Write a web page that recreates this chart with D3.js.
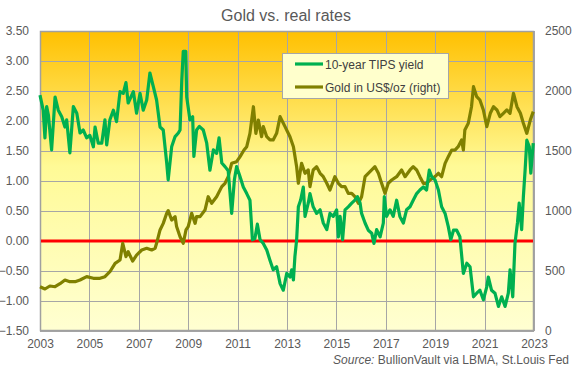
<!DOCTYPE html>
<html>
<head>
<meta charset="utf-8">
<script src="https://cdn.jsdelivr.net/npm/d3@7"></script>
<style>
  html, body { margin: 0; padding: 0; background: #ffffff; }
  svg { display: block; font-family: "Liberation Sans", Arial, sans-serif; }
</style>
</head>
<body>
<svg id="chart" width="574" height="375"></svg>
<script>
// ---- Data ----
const title = "Gold vs. real rates";
const seriesNames = ["10-year TIPS yield", "Gold in US$/oz (right)"];
const xTicks = [2003, 2005, 2007, 2009, 2011, 2013, 2015, 2017, 2019, 2021, 2023];
const leftTicks = [-1.5, -1.0, -0.5, 0, 0.5, 1.0, 1.5, 2.0, 2.5, 3.0, 3.5];
const rightTicks = [0, 500, 1000, 1500, 2000, 2500];

const tipsDates = [2003.00,2003.13,2003.20,2003.27,2003.34,2003.47,2003.61,2003.74,2003.88,2004.01,2004.08,2004.21,2004.35,2004.49,2004.62,2004.75,2004.89,2005.02,2005.16,2005.23,2005.36,2005.50,2005.63,2005.70,2005.83,2005.97,2006.10,2006.24,2006.37,2006.48,2006.57,2006.78,2006.91,2007.05,2007.18,2007.32,2007.45,2007.59,2007.72,2007.86,2007.99,2008.13,2008.19,2008.33,2008.47,2008.60,2008.67,2008.74,2008.80,2008.90,2008.94,2009.07,2009.18,2009.23,2009.34,2009.45,2009.61,2009.75,2009.88,2010.02,2010.15,2010.25,2010.36,2010.49,2010.62,2010.76,2010.87,2010.96,2011.10,2011.23,2011.37,2011.50,2011.60,2011.70,2011.80,2011.91,2012.04,2012.18,2012.31,2012.44,2012.58,2012.72,2012.85,2012.99,2013.12,2013.19,2013.26,2013.32,2013.39,2013.46,2013.55,2013.66,2013.73,2013.86,2013.93,2014.06,2014.20,2014.34,2014.47,2014.61,2014.74,2014.87,2015.01,2015.08,2015.15,2015.25,2015.35,2015.48,2015.62,2015.75,2015.85,2015.96,2016.02,2016.16,2016.29,2016.43,2016.52,2016.63,2016.77,2016.90,2016.94,2017.03,2017.17,2017.30,2017.44,2017.57,2017.71,2017.84,2017.98,2018.11,2018.25,2018.38,2018.52,2018.65,2018.76,2018.86,2018.99,2019.13,2019.26,2019.40,2019.53,2019.63,2019.74,2019.87,2020.00,2020.14,2020.28,2020.41,2020.55,2020.68,2020.81,2020.95,2021.09,2021.15,2021.28,2021.42,2021.56,2021.69,2021.83,2021.96,2022.03,2022.14,2022.23,2022.33,2022.40,2022.50,2022.57,2022.64,2022.71,2022.81,2022.87,2022.97];
const tipsValues = [2.43,2.18,1.72,2.24,2.10,1.52,2.40,2.18,2.07,1.90,2.02,1.47,2.24,2.13,1.80,1.85,1.72,1.76,1.57,1.90,1.63,1.63,2.02,1.60,2.02,2.18,1.99,2.49,2.46,2.64,2.30,2.49,2.13,2.46,2.18,2.35,2.80,2.57,2.35,1.90,1.85,1.30,1.02,1.57,1.74,1.80,1.85,2.68,3.16,3.16,2.40,2.02,2.07,1.41,1.85,1.91,1.85,1.63,1.18,1.52,1.46,1.72,1.30,1.24,1.17,0.46,1.02,1.24,1.07,0.90,0.79,0.68,0.02,0.04,0.28,0.02,-0.04,-0.15,-0.32,-0.48,-0.43,-0.71,-0.82,-0.54,-0.60,-0.48,-0.65,-0.26,0.02,0.57,0.68,0.90,0.41,0.63,0.79,0.57,0.46,0.52,0.30,0.19,0.46,0.41,0.52,0.07,0.41,0.02,0.52,0.57,0.63,0.68,0.74,0.63,0.46,0.30,0.18,0.13,-0.04,0.19,0.07,0.30,0.74,0.41,0.52,0.41,0.68,0.41,0.30,0.52,0.57,0.68,0.79,0.85,0.90,0.85,1.18,1.07,1.02,0.85,0.57,0.46,0.24,0.02,0.18,0.18,0.07,-0.54,-0.37,-0.43,-0.93,-0.87,-0.82,-0.98,-0.76,-0.60,-0.82,-0.87,-1.09,-0.93,-1.09,-0.87,-0.48,-0.93,-0.04,0.30,0.63,0.19,0.74,1.18,1.68,1.57,1.13,1.63];

const goldDates = [2003.00,2003.20,2003.40,2003.61,2003.81,2004.01,2004.21,2004.42,2004.62,2004.89,2005.16,2005.43,2005.63,2005.83,2006.04,2006.24,2006.35,2006.48,2006.57,2006.75,2006.91,2007.12,2007.32,2007.52,2007.66,2007.72,2007.86,2007.99,2008.13,2008.19,2008.33,2008.47,2008.53,2008.67,2008.80,2008.91,2009.00,2009.14,2009.28,2009.34,2009.48,2009.68,2009.81,2009.95,2010.15,2010.36,2010.49,2010.62,2010.76,2010.96,2011.10,2011.26,2011.37,2011.50,2011.64,2011.74,2011.84,2011.97,2012.04,2012.18,2012.31,2012.44,2012.58,2012.72,2012.92,2013.12,2013.26,2013.39,2013.46,2013.59,2013.73,2013.86,2013.93,2014.06,2014.20,2014.34,2014.47,2014.61,2014.74,2014.94,2015.08,2015.21,2015.35,2015.48,2015.62,2015.75,2015.89,2016.02,2016.16,2016.29,2016.43,2016.56,2016.70,2016.83,2016.97,2017.10,2017.24,2017.44,2017.64,2017.78,2017.98,2018.11,2018.25,2018.38,2018.52,2018.65,2018.79,2018.99,2019.13,2019.26,2019.40,2019.53,2019.67,2019.80,2019.93,2020.07,2020.14,2020.20,2020.34,2020.47,2020.55,2020.68,2020.81,2020.95,2021.09,2021.23,2021.36,2021.50,2021.62,2021.76,2021.90,2022.03,2022.17,2022.31,2022.45,2022.57,2022.71,2022.85,2022.97];
const goldValues = [369,350,375,369,394,425,411,411,425,453,439,439,453,494,564,592,731,620,661,583,633,675,689,675,689,731,842,897,981,1003,925,953,870,786,731,842,870,981,897,953,953,1008,1119,1064,1119,1203,1231,1286,1397,1411,1453,1508,1536,1647,1869,1647,1758,1619,1703,1619,1592,1592,1647,1786,1703,1619,1536,1369,1231,1397,1314,1342,1203,1342,1369,1314,1286,1231,1175,1286,1231,1203,1203,1147,1147,1119,1064,1119,1286,1314,1342,1369,1314,1231,1147,1231,1258,1286,1342,1286,1342,1369,1342,1286,1231,1231,1258,1286,1314,1286,1397,1453,1508,1508,1536,1592,1508,1675,1731,1869,2036,1953,1925,1842,1703,1814,1869,1842,1786,1814,1842,1814,1981,1869,1814,1731,1647,1758,1828];

// ---- Layout ----
const svg = d3.select("#chart");
const W = 574, H = 375;
const plot = { left: 40, right: 534, top: 31, bottom: 331 };
const textColor = "#595959";

const x = d3.scaleLinear().domain([2003, 2023]).range([plot.left, plot.right]);
const yL = d3.scaleLinear().domain([-1.5, 3.5]).range([plot.bottom, plot.top]);
const yR = d3.scaleLinear().domain([0, 2500]).range([plot.bottom, plot.top]);

// background gradient
const defs = svg.append("defs");
const grad = defs.append("linearGradient").attr("id", "bg")
  .attr("x1", 0).attr("y1", 0).attr("x2", 0).attr("y2", 1);
grad.append("stop").attr("offset", "0%").attr("stop-color", "#FFC000");
grad.append("stop").attr("offset", "45%").attr("stop-color", "#FFFA96");
grad.append("stop").attr("offset", "100%").attr("stop-color", "#FFFFD2");

svg.append("rect")
  .attr("x", plot.left).attr("y", plot.top)
  .attr("width", plot.right - plot.left).attr("height", plot.bottom - plot.top)
  .attr("fill", "url(#bg)");

// gridlines
const grid = svg.append("g").attr("stroke", "#A6A6A6").attr("stroke-width", 1);
grid.selectAll("line.h").data(leftTicks).join("line")
  .attr("x1", plot.left).attr("x2", plot.right)
  .attr("y1", d => Math.round(yL(d)) + 0.5).attr("y2", d => Math.round(yL(d)) + 0.5);
grid.selectAll("line.v").data(xTicks).join("line")
  .attr("y1", plot.top).attr("y2", plot.bottom)
  .attr("x1", d => Math.round(x(d)) + 0.5).attr("x2", d => Math.round(x(d)) + 0.5);

// border
svg.append("rect")
  .attr("x", plot.left + 0.5).attr("y", plot.top + 0.5)
  .attr("width", plot.right - plot.left - 1).attr("height", plot.bottom - plot.top - 1)
  .attr("fill", "none").attr("stroke", "#A0A0A0").attr("stroke-width", 1.5);

// zero line
svg.append("line")
  .attr("x1", plot.left + 1).attr("x2", plot.right - 1)
  .attr("y1", yL(0)).attr("y2", yL(0))
  .attr("stroke", "#FF0000").attr("stroke-width", 3);

// series
const tipsData = tipsDates.map((d, i) => [d, tipsValues[i]]);
const goldData = goldDates.map((d, i) => [d, goldValues[i]]);

const lineL = d3.line().x(d => x(d[0])).y(d => yL(d[1]));
const lineR = d3.line().x(d => x(d[0])).y(d => yR(d[1]));

svg.append("path").datum(goldData)
  .attr("d", lineR).attr("fill", "none")
  .attr("stroke", "#808000").attr("stroke-width", 3.2)
  .attr("stroke-linejoin", "round");

svg.append("path").datum(tipsData)
  .attr("d", lineL).attr("fill", "none")
  .attr("stroke", "#00B050").attr("stroke-width", 3.2)
  .attr("stroke-linejoin", "round");

// axes
const axisFont = "12px";
const leftAxis = d3.axisLeft(yL).tickValues(leftTicks).tickFormat(d3.format(".2f")).tickSize(0).tickPadding(11);
const gL = svg.append("g").attr("transform", `translate(${plot.left},0)`).call(leftAxis);
const rightAxis = d3.axisRight(yR).tickValues(rightTicks).tickFormat(d3.format("d")).tickSize(0).tickPadding(11);
const gR = svg.append("g").attr("transform", `translate(${plot.right},0)`).call(rightAxis);
const bottomAxis = d3.axisBottom(x).tickValues(xTicks).tickFormat(d3.format("d")).tickSize(0).tickPadding(8);
const gB = svg.append("g").attr("transform", `translate(0,${plot.bottom})`).call(bottomAxis);
[gL, gR, gB].forEach(g => {
  g.select(".domain").remove();
  g.selectAll("text").attr("fill", textColor).style("font-size", axisFont)
    .style("font-family", "'Liberation Sans', Arial, sans-serif");
});

// title
svg.append("text").attr("x", 286).attr("y", 21)
  .attr("text-anchor", "middle").attr("fill", textColor)
  .style("font-size", "16px").text(title);

// legend
const lg = svg.append("g");
lg.append("rect").attr("x", 282.5).attr("y", 53.5).attr("width", 166).attr("height", 45)
  .attr("fill", "#FFFFCC").attr("stroke", "#A6A6A6").attr("stroke-width", 1);
const legendColors = ["#00B050", "#808000"];
seriesNames.forEach((name, i) => {
  const ly = 64 + i * 23;
  lg.append("line").attr("x1", 295).attr("x2", 323).attr("y1", ly).attr("y2", ly)
    .attr("stroke", legendColors[i]).attr("stroke-width", 3.2);
  lg.append("text").attr("x", 325).attr("y", ly + 4.5)
    .attr("fill", "#404040").style("font-size", "12px").text(name);
});

// source
const src = svg.append("text").attr("x", 569).attr("y", 364)
  .attr("text-anchor", "end").attr("fill", textColor).style("font-size", "12px");
src.append("tspan").style("font-style", "italic").text("Source:");
src.append("tspan").text(" BullionVault via LBMA, St.Louis Fed");
</script>
</body>
</html>
